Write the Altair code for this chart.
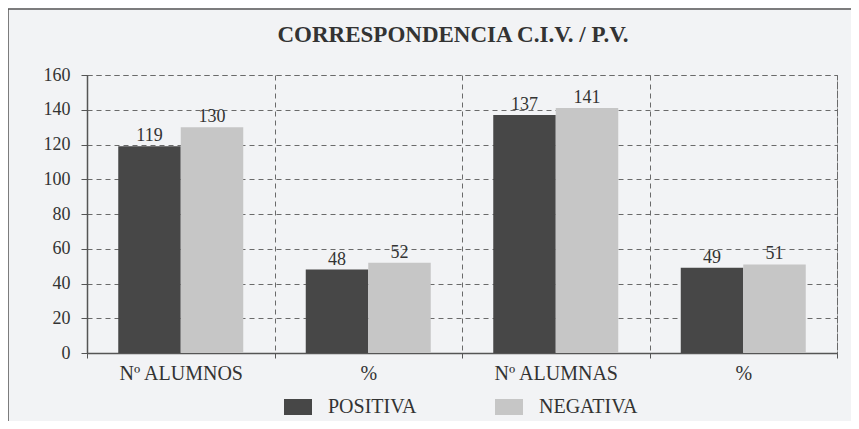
import altair as alt
import pandas as pd

# ---- data ----
group_labels = ["Nº ALUMNOS", "%", "Nº ALUMNAS", "%"]
series = ["POSITIVA", "NEGATIVA"]
positiva = [119, 48, 137, 49]
negativa = [130, 52, 141, 51]
y_ticks = [0, 20, 40, 60, 80, 100, 120, 140, 160]
title_text = "CORRESPONDENCIA C.I.V. / P.V."

rows = []
for i in range(len(group_labels)):
    rows.append({"idx": i, "serie": series[0], "value": positiva[i]})
    rows.append({"idx": i, "serie": series[1], "value": negativa[i]})
df = pd.DataFrame(rows)

FONT = "Liberation Serif"
TXT = "#333333"
GRID = "#6a6a6a"
DARK = "#474747"
LIGHT = "#c6c6c6"
BG = "#f2f3f5"

W, H = 750, 278

label_expr = "[" + ",".join("'" + s + "'" for s in group_labels) + "][datum.value]"

x_enc = alt.X(
    "idx:O",
    scale=alt.Scale(paddingInner=0, paddingOuter=0),
    axis=alt.Axis(
        title=None,
        labelExpr=label_expr,
        labelAngle=0,
        labelFont=FONT,
        labelFontSize=20,
        labelColor=TXT,
        labelPadding=5,
        tickBand="extent",
        tickSize=5,
        tickColor="#555555",
        domainColor="#555555",
        domainWidth=1.5,
        grid=True,
        gridDash=[5, 4],
        gridColor=GRID,
        gridWidth=1,
    ),
)
xoff_enc = alt.XOffset(
    "serie:N", sort=series, scale=alt.Scale(paddingOuter=0.5, paddingInner=0)
)
y_enc = alt.Y(
    "value:Q",
    scale=alt.Scale(domain=[0, 160], nice=False),
    axis=alt.Axis(
        title=None,
        values=y_ticks,
        labelFont=FONT,
        labelFontSize=18,
        labelColor=TXT,
        labelPadding=11,
        tickSize=6,
        tickColor="#555555",
        domainColor="#555555",
        domainWidth=1.5,
        grid=True,
        gridDash=[5, 4],
        gridColor=GRID,
        gridWidth=1,
    ),
)

bars = (
    alt.Chart(df)
    .mark_bar()
    .encode(
        x=x_enc,
        xOffset=xoff_enc,
        y=y_enc,
        color=alt.Color(
            "serie:N",
            sort=series,
            scale=alt.Scale(domain=series, range=[DARK, LIGHT]),
            legend=alt.Legend(
                title=None,
                orient="none",
                legendX=197,
                legendY=318,
                direction="horizontal",
                symbolType="M-1,-0.57H1V0.57H-1Z",
                symbolSize=784,
                symbolStrokeWidth=0,
                labelFont=FONT,
                labelFontSize=20,
                labelColor=TXT,
                labelOffset=16,
                columnPadding=78,
                padding=0,
            ),
        ),
    )
)

labels = (
    alt.Chart(df)
    .mark_text(baseline="bottom", dy=-1, font=FONT, fontSize=18, color=TXT)
    .encode(x=x_enc, xOffset=xoff_enc, y=y_enc, text="value:Q")
)

one = pd.DataFrame({"title": [title_text]})

frame = (
    alt.Chart(one)
    .mark_rect(fill=None, stroke="#555555", strokeWidth=1.5)
    .encode(
        x=alt.value(-79), x2=alt.value(800), y=alt.value(-66), y2=alt.value(400)
    )
)

title = (
    alt.Chart(one)
    .mark_text(
        font=FONT,
        fontSize=23,
        fontWeight="bold",
        color=TXT,
        align="center",
        baseline="alphabetic",
    )
    .encode(x=alt.value(W / 2 - 9), y=alt.value(-33), text="title:N")
)

chart = (
    alt.layer(frame, title, bars, labels)
    .properties(
        width=W,
        height=H,
        autosize=alt.AutoSizeParams(type="none"),
        padding={"left": 79, "top": 67, "right": 14, "bottom": 68},
        background=BG,
    )
    .configure_view(stroke=GRID, strokeDash=[5, 4], strokeWidth=1)
)

chart.save("out.html", embed_options={"renderer": "svg", "actions": False})
